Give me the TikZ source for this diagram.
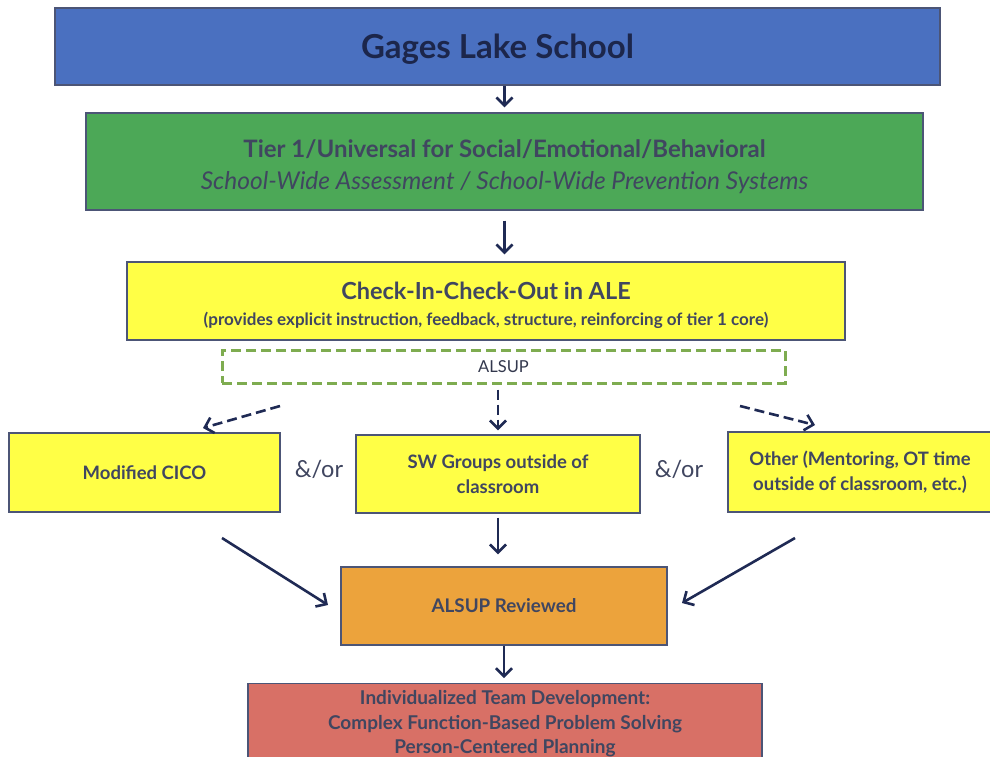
\documentclass[tikz,border=0pt]{standalone}
\usepackage{fontspec}
\setmainfont{Lato}
\usetikzlibrary{arrows.meta, positioning}
\definecolor{SchoolBlue}{RGB}{74, 112, 192}
\definecolor{TierGreen}{RGB}{76, 168, 87}
\definecolor{CicoYellow}{RGB}{255, 255, 70}
\definecolor{ReviewOrange}{RGB}{236, 163, 60}
\definecolor{TeamSalmon}{RGB}{216, 112, 102}
\definecolor{DashGreen}{RGB}{126, 172, 80}
\definecolor{InkNavy}{RGB}{31, 42, 84}
\definecolor{TextSlate}{RGB}{64, 70, 96}

\tikzset{
  box/.style={draw=InkNavy!80, line width=1.4pt, align=center, inner sep=0pt, text=TextSlate},
  arr/.style={-{Straight Barb[length=8pt, width=16pt, line width=2.6pt]}, line width=2.6pt, draw=InkNavy},
  darr/.style={arr, dash pattern=on 10pt off 5pt}
}

\begin{document}
\begin{tikzpicture}[x=1pt, y=-1pt]
    \useasboundingbox (0,0) rectangle (990,756);
    \clip (0,0) rectangle (990,756);

    % Top of the hierarchy
    \node[box, fill=SchoolBlue, minimum width=885pt, minimum height=77pt, text=InkNavy!90!black, text depth=0pt,
          font=\fontsize{33}{38}\selectfont\bfseries] (school) at (497.5,46.5) {Gages Lake School};

    \node[box, fill=TierGreen, minimum width=837pt, minimum height=97pt, font=\fontsize{24}{29}\selectfont] (tier) at (504.5,161.5)
      {\rule{0pt}{28pt}{\bfseries Tier 1/Universal for Social/Emotional/Behavioral}\\[3pt]
       {\fontsize{24.5}{29}\selectfont\itshape School-Wide Assessment / School-Wide Prevention Systems}};

    \node[box, fill=CicoYellow, minimum width=718pt, minimum height=78pt, font=\fontsize{17}{21}\selectfont\bfseries] (cico) at (486,301)
      {\rule{0pt}{26.5pt}{\fontsize{23.5}{28}\selectfont Check-In-Check-Out in ALE}\\[5pt]
       (provides explicit instruction, feedback, structure, reinforcing of tier 1 core)};

    \node[draw=DashGreen, line width=3pt, dash pattern=on 10pt off 5pt, minimum width=563pt, minimum height=33pt,
          text=TextSlate!80!black, font=\fontsize{16.5}{20}\selectfont] (alsup) at (503.5,366.5) {ALSUP};

    % Options
    \node[box, fill=CicoYellow, minimum width=271pt, minimum height=79pt,
          font=\fontsize{18.5}{24.5}\selectfont\bfseries] (modcico) at (144.5,472.5) {Modified CICO};
    \node[box, fill=CicoYellow, minimum width=284pt, minimum height=78pt,
          font=\fontsize{18.5}{24.5}\selectfont\bfseries] (swgroups) at (498,474) {SW Groups outside of\\classroom};
    \node[box, fill=CicoYellow, minimum width=264pt, minimum height=80pt,
          font=\fontsize{18.5}{24.5}\selectfont\bfseries] (other) at (860,472) {Other (Mentoring, OT time\\outside of classroom, etc.)};

    \node[text=TextSlate, font=\fontsize{23.5}{26}\selectfont] (andor1) at (319,469) {\&/or};
    \node[text=TextSlate, font=\fontsize{23.5}{26}\selectfont] (andor2) at (679,469) {\&/or};

    % Review and team
    \node[box, fill=ReviewOrange, minimum width=326pt, minimum height=78pt,
          font=\fontsize{18.8}{22}\selectfont\bfseries] (reviewed) at (504,606) {ALSUP Reviewed};
    \node[box, fill=TeamSalmon, minimum width=514pt, minimum height=80pt, anchor=north,
          font=\fontsize{19}{24.5}\selectfont\bfseries] (team) at (505,683)
      {Individualized Team Development:\\Complex Function-Based Problem Solving\\Person-Centered Planning};

    % Free ends of the side arrows
    \coordinate (ldash) at (280,406);
    \coordinate (rdash) at (740,406);
    \coordinate (lsolid) at (222,538);
    \coordinate (rsolid) at (795,538);

    % Connectors
    \draw[arr, shorten >=5pt] (school.south -| tier.north) -- (tier.north);
    \draw[arr, shorten <=10pt, shorten >=7pt] (tier.south) -- (tier.south |- cico.north);
    \draw[darr] (ldash) -- (203,428);
    \draw[darr, shorten <=5pt, shorten >=4pt] (alsup.south -| swgroups.north) -- (swgroups.north);
    \draw[darr] (rdash) -- (815,425);
    \draw[arr, shorten <=4pt, shorten >=12pt] (swgroups.south) -- (swgroups.south |- reviewed.north);
    \draw[arr] (lsolid) -- (328,605);
    \draw[arr] (rsolid) -- (682,603);
    \draw[arr, shorten >=5pt] (reviewed.south) -- (reviewed.south |- team.north);
\end{tikzpicture}
\end{document}
